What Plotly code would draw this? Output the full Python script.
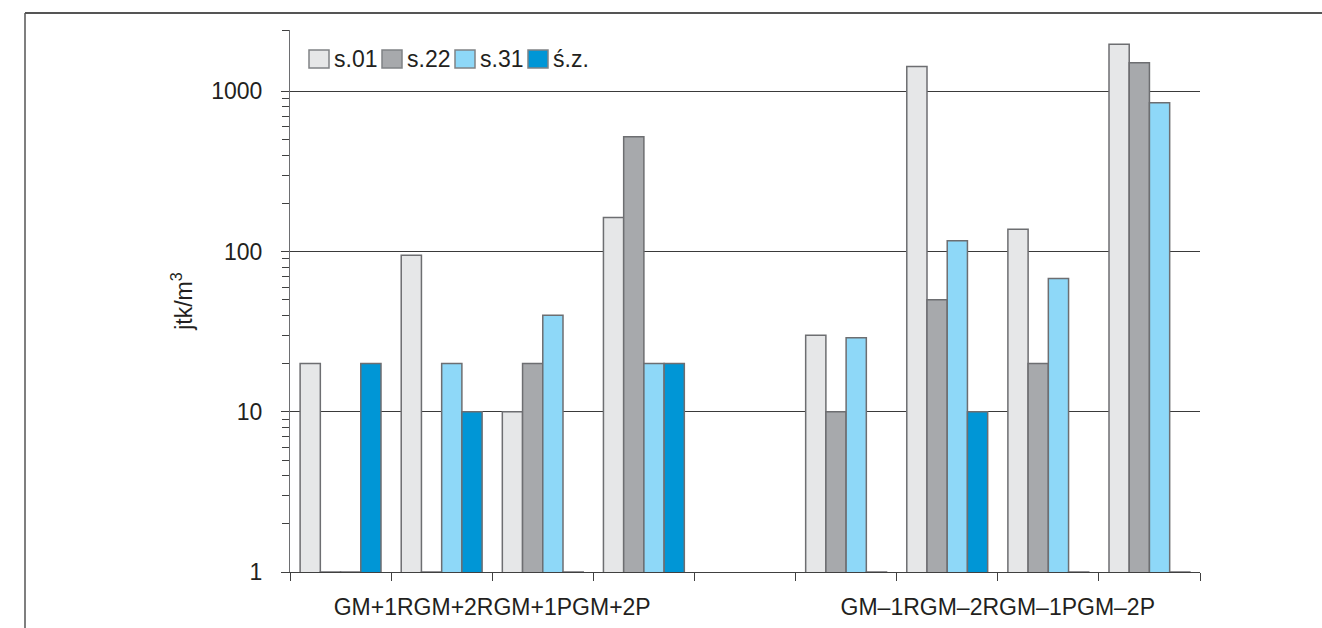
import plotly.graph_objects as go

# Group slots along the x axis (an empty slot separates the two blocks)
slots = ["GM+1R", "GM+2R", "GM+1P", "GM+2P", "", "GM–1R", "GM–2R", "GM–1P", "GM–2P"]
block_left = ["GM+1R", "GM+2R", "GM+1P", "GM+2P"]
block_right = ["GM–1R", "GM–2R", "GM–1P", "GM–2P"]

series_names = ["s.01", "s.22", "s.31", "ś.z."]
# jtk/m3 per slot; 1 marks a bar with no growth (flat on the axis), None for the empty slot
s01 = [20, 95, 10, 163, None, 30, 1430, 138, 1970]
s22 = [1, 1, 20, 520, None, 10, 50, 20, 1510]
s31 = [1, 20, 40, 20, None, 29, 117, 68, 850]
sz = [20, 10, 1, 20, None, 1, 10, 1, 1]

colors = ["#e6e7e8", "#a7a9ac", "#8ed8f8", "#0096d6"]
edge = "#6d6e71"
FONT = "Liberation Sans, Arial, sans-serif"
FS = 23

x_pos = list(range(len(slots)))

fig = go.Figure()
for name, vals, col in zip(series_names, [s01, s22, s31, sz], colors):
    fig.add_trace(go.Bar(
        x=x_pos, y=vals, name=name, showlegend=False,
        marker=dict(color=col, line=dict(color=edge, width=1.5)),
    ))

# plot-area geometry in pixels
W, H = 1322, 628
ML, MR, MT, MB = 290, 122, 30, 56
PW, PH = W - ML - MR, H - MT - MB


def px_x(x):
    return (x - ML) / PW


def px_y(y):
    return 1 - (y - MT) / PH


# y axis: log scale from 1 up to just above 2000
y_top_log = 3.383
minor_vals = [m * 10 ** d for d in range(3) for m in range(2, 10)] + [10 ** y_top_log]
boundaries = [i - 0.5 for i in range(len(slots) + 1)]

fig.update_layout(
    width=W, height=H,
    margin=dict(l=ML, r=MR, t=MT, b=MB),
    paper_bgcolor="white", plot_bgcolor="white",
    barmode="group", bargap=0.2, bargroupgap=0,
    font=dict(family=FONT, size=FS, color="#231f20"),
    showlegend=False,
    xaxis=dict(
        range=[-0.5, len(slots) - 0.5],
        tickmode="array",
        tickvals=[1.5, 6.5],
        ticktext=["".join(block_left), "".join(block_right)],
        ticks="", ticklabelstandoff=14,
        showgrid=False, zeroline=False, automargin=False,
        showline=True, linecolor="#404040", linewidth=1,
        minor=dict(tickmode="array", tickvals=boundaries, ticks="outside",
                   ticklen=8, tickcolor="#404040", tickwidth=1, showgrid=False),
        tickfont=dict(size=FS, family=FONT),
    ),
    yaxis=dict(
        type="log",
        range=[0, y_top_log],
        tickmode="array",
        tickvals=[1, 10, 100, 1000],
        ticktext=["1", "10", "100", "1000"],
        ticks="outside", ticklen=8, tickcolor="#404040", tickwidth=1,
        ticklabelstandoff=14, automargin=False,
        showgrid=True, gridcolor="#3a3a3a", gridwidth=1,
        zeroline=False,
        showline=True, linecolor="#6d6e71", linewidth=1,
        minor=dict(tickmode="array", tickvals=minor_vals, ticks="outside",
                   ticklen=7, tickcolor="#404040", tickwidth=1, showgrid=False),
        title=dict(text="jtk/m<sup>3</sup>", font=dict(size=23, family=FONT),
                   standoff=12),
        tickfont=dict(size=FS, family=FONT),
    ),
)

# legend drawn as boxes with labels, laid out left to right inside the plot
box_left = [309, 382, 455, 528]
box_w, box_h = 20, 18
box_top = 50
for name, col, bx in zip(series_names, colors, box_left):
    fig.add_shape(type="rect", xref="paper", yref="paper",
                  x0=px_x(bx), x1=px_x(bx + box_w),
                  y0=px_y(box_top + box_h), y1=px_y(box_top),
                  fillcolor=col, line=dict(color="#808285", width=1.5))
    fig.add_annotation(xref="paper", yref="paper",
                       x=px_x(bx + box_w + 3), y=px_y(box_top + box_h / 2),
                       xanchor="left", yanchor="middle", showarrow=False,
                       text=name, font=dict(size=FS, family=FONT, color="#231f20"))

# outer frame lines (top and left)
fig.add_shape(type="line", xref="paper", yref="paper",
              x0=px_x(25), x1=px_x(W), y0=px_y(13), y1=px_y(13),
              line=dict(color="#555555", width=2))
fig.add_shape(type="line", xref="paper", yref="paper",
              x0=px_x(25), x1=px_x(25), y0=px_y(13), y1=px_y(H),
              line=dict(color="#555555", width=1.5))

fig.write_html("out.html")
